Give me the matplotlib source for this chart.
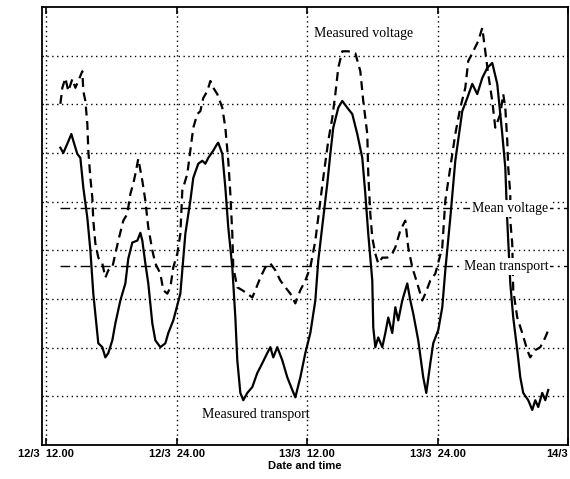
import matplotlib
matplotlib.use("Agg")
import matplotlib.pyplot as plt

# hours from 12/3 00.00
transport_t = [13.29,13.56,13.93,14.30,14.48,14.85,15.13,15.40,15.77,16.05,16.32,16.69,16.78,17.15,17.43,17.70,18.07,18.35,18.81,19.27,19.54,19.91,20.37,20.65,20.83,21.11,21.38,21.75,22.03,22.49,22.95,23.22,23.68,24.33,24.79,25.25,25.52,25.98,26.35,26.63,26.90,27.36,27.73,27.82,28.19,28.47,28.74,29.11,29.39,29.57,29.85,30.12,30.49,30.95,31.41,31.87,32.33,32.61,32.88,33.25,33.71,34.17,34.63,34.91,35.37,35.83,36.29,36.75,37.02,37.48,37.85,38.13,38.40,38.86,39.23,39.69,40.15,40.61,41.07,41.35,41.62,41.99,42.08,42.27,42.54,42.91,43.19,43.46,43.83,44.11,44.38,44.75,45.21,45.49,45.76,46.22,46.68,46.96,47.33,47.60,48.06,48.43,48.71,49.17,49.63,50.27,50.73,51.19,51.65,52.11,52.57,53.03,53.49,53.95,54.23,54.41,54.69,54.96,55.33,55.61,55.88,56.34,56.71,56.99,57.26,57.63,57.91,58.18]
transport_v = [6.11,6.00,6.19,6.39,6.25,5.98,5.90,5.29,4.67,4.00,3.11,2.30,2.09,2.01,1.80,1.89,2.15,2.50,2.97,3.32,3.83,4.16,4.20,4.36,4.20,3.73,3.32,2.50,2.15,2.01,2.09,2.30,2.56,3.11,4.34,5.02,5.49,5.78,5.84,5.78,5.90,6.05,6.19,6.21,5.98,5.29,4.47,3.65,2.62,1.74,1.07,0.92,1.07,1.19,1.48,1.68,1.89,2.01,1.80,2.01,1.74,1.39,1.13,0.98,1.39,1.89,2.30,2.97,3.79,4.67,5.37,5.98,6.52,6.93,7.07,6.93,6.80,6.39,5.90,5.16,4.34,3.38,2.42,2.01,2.21,2.01,2.30,2.62,2.30,2.83,2.56,2.97,3.32,2.97,2.70,2.15,1.39,1.07,1.68,2.09,2.36,2.83,3.59,4.67,5.84,6.86,7.13,7.42,7.21,7.54,7.75,7.85,7.42,6.39,5.70,4.61,3.32,2.62,1.95,1.39,1.07,0.92,0.72,0.92,0.78,1.07,0.92,1.13]

voltage_t = [13.29,13.47,13.75,14.02,14.39,14.67,14.94,15.31,15.40,15.59,15.77,15.86,16.05,16.23,16.32,16.51,16.78,17.15,17.43,17.70,18.07,18.35,18.62,19.08,19.45,19.73,20.00,20.19,20.46,20.83,21.11,21.38,21.75,22.03,22.49,22.76,23.13,23.41,23.68,24.05,24.33,24.51,24.97,25.25,25.52,25.89,26.17,26.44,26.81,27.09,27.36,27.73,28.19,28.47,28.74,28.93,29.11,29.20,29.57,30.03,30.49,30.95,31.23,31.69,32.15,32.61,33.07,33.53,33.99,34.45,34.91,35.37,35.83,36.29,36.75,37.21,37.48,37.94,38.31,38.59,38.86,39.23,39.78,40.43,40.89,41.16,41.53,41.62,41.81,41.99,42.27,42.54,42.91,43.37,43.83,44.11,44.57,45.03,45.30,45.67,46.13,46.59,46.87,47.33,47.79,48.43,48.71,49.17,49.63,50.09,50.55,50.82,51.28,51.74,52.11,52.39,52.66,53.03,53.31,53.77,54.04,54.23,54.41,54.50,54.69,54.69,54.87,54.96,55.33,55.79,56.25,56.52,56.99,57.45,57.91,58.18]
voltage_v = [7.01,7.34,7.54,7.27,7.52,7.34,7.48,7.68,7.27,7.07,6.60,6.05,5.49,5.08,4.61,4.14,3.85,3.73,3.44,3.59,3.65,3.93,4.20,4.61,4.75,5.16,5.37,5.57,5.88,5.43,5.02,4.47,4.00,3.73,3.52,3.18,3.11,3.24,3.65,3.93,4.34,5.23,5.57,6.05,6.52,6.80,6.86,7.13,7.27,7.48,7.34,7.21,6.93,6.52,5.84,5.16,4.34,3.65,3.24,3.18,3.11,3.03,3.18,3.44,3.65,3.73,3.59,3.38,3.24,3.11,2.91,3.18,3.38,3.65,4.20,5.02,5.49,6.25,6.72,7.21,7.75,8.09,8.09,8.05,7.68,7.07,6.39,5.57,4.75,4.26,3.93,3.73,3.85,3.85,3.93,4.06,4.41,4.61,4.06,3.65,3.32,2.97,3.11,3.38,3.52,4.06,5.02,5.70,6.39,6.93,7.34,7.89,8.09,8.30,8.57,8.09,7.62,7.07,6.52,6.80,7.21,6.93,6.25,5.70,5.16,4.61,4.14,3.18,2.62,2.30,1.95,1.80,1.95,2.01,2.21,2.36]

mean_voltage = 4.86
mean_transport = 3.67
mean_start = 13.3

tick_pos = [12, 24, 36, 48, 60]
tick_labels = ["12/3  12.00", "12/3  24.00", "13/3  12.00", "13/3  24.00", "14/3"]

fig = plt.figure(figsize=(5.70, 4.79), dpi=100)
ax = fig.add_axes([0.0737, 0.071, 0.9228, 0.9144])
ax.set_xlim(11.6, 60.0)
ax.set_ylim(0, 9)

for y in range(1, 9):
    ax.axhline(y, color="black", lw=1.0, ls=(0, (1, 2.5)), zorder=1)
for x in tick_pos[:-1]:
    ax.axvline(x, color="black", lw=1.0, ls=(0, (1, 2.5)), zorder=1)

ax.plot(transport_t, transport_v, color="black", lw=1.6, zorder=3)
ax.plot(voltage_t, voltage_v, color="black", lw=1.6, ls=(0, (4, 2.5)), zorder=3)

ax.plot([mean_start, 60], [mean_voltage, mean_voltage], color="black", lw=1.0,
        ls=(0, (7, 3, 1.5, 3)), zorder=2)
ax.plot([mean_start, 60], [mean_transport, mean_transport], color="black", lw=1.0,
        ls=(0, (7, 3, 1.5, 3)), zorder=2)

serif = ["Liberation Serif", "DejaVu Serif"]
box = dict(facecolor="white", edgecolor="none", pad=1.5)
ax.text(54.65, mean_voltage, "Mean voltage", family=serif, fontsize=10,
        ha="center", va="center", bbox=box, zorder=4)
ax.text(54.3, mean_transport, "Mean transport", family=serif, fontsize=10,
        ha="center", va="center", bbox=box, zorder=4)
ax.text(41.2, 8.45, "Measured voltage", family=serif, fontsize=10,
        ha="center", va="center", zorder=4)
ax.text(31.3, 0.62, "Measured transport", family=serif, fontsize=10,
        ha="center", va="center", zorder=4)

ax.set_yticks([])
ax.set_xticks(tick_pos)
ax.set_xticklabels(tick_labels, family="Liberation Sans", fontweight="bold", fontsize=8)
labs = ax.get_xticklabels()
labs[-1].set_horizontalalignment("right")
ax.tick_params(axis="x", direction="in", length=5, width=1.2, top=True, pad=3)
ax.set_xlabel("Date and time", family="Liberation Sans", fontweight="bold",
              fontsize=8, labelpad=1)
for s in ax.spines.values():
    s.set_linewidth(1.3)

fig.savefig("out.png", dpi=100)
